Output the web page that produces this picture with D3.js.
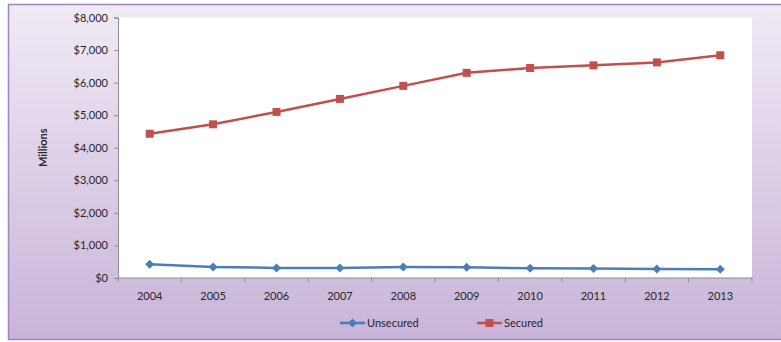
<!DOCTYPE html>
<html>
<head>
<meta charset="utf-8">
<script src="https://cdn.jsdelivr.net/npm/d3@7"></script>
<style>
  html, body { margin: 0; padding: 0; background: #ffffff; }
  svg { display: block; }
  text { font-family: Lato, "Open Sans", sans-serif; fill: #262626; }
</style>
</head>
<body>
<svg id="chart" width="781" height="342"></svg>
<script>
// Loan balances by year, in millions of dollars
const years = ["2004", "2005", "2006", "2007", "2008", "2009", "2010", "2011", "2012", "2013"];
const unsecured = [420, 340, 310, 310, 340, 330, 300, 290, 280, 265];
const secured = [4430, 4720, 5100, 5500, 5900, 6300, 6450, 6530, 6620, 6840];
const yTicks = [0, 1000, 2000, 3000, 4000, 5000, 6000, 7000, 8000];
const seriesNames = ["Unsecured", "Secured"];
const seriesColors = ["#4a7ebb", "#c0504d"];

const svg = d3.select("#chart");
const W = 781, H = 342;

// Panel background with vertical lavender gradient
const defs = svg.append("defs");
const grad = defs.append("linearGradient").attr("id", "panelGrad")
  .attr("x1", 0).attr("y1", 0).attr("x2", 0).attr("y2", 1);
grad.append("stop").attr("offset", "0%").attr("stop-color", "#f0eaf5");
grad.append("stop").attr("offset", "100%").attr("stop-color", "#c8b4d8");

svg.append("rect")
  .attr("x", 8.5).attr("y", 4.5)
  .attr("width", 780).attr("height", 335)
  .attr("fill", "url(#panelGrad)")
  .attr("stroke", "#9d86c2").attr("stroke-width", 1.5);

const plot = { left: 118, right: 752, top: 17.5, bottom: 278 };

svg.append("rect")
  .attr("x", plot.left).attr("y", plot.top)
  .attr("width", plot.right - plot.left).attr("height", plot.bottom - plot.top)
  .attr("fill", "#ffffff");

const x = d3.scaleBand().domain(years).range([plot.left, plot.right]);
const y = d3.scaleLinear().domain([0, 8000]).range([plot.bottom, plot.top]);

// Y axis
const fmt = v => "$" + d3.format(",")(v);
const yAxis = svg.append("g")
  .attr("transform", `translate(${plot.left},0)`)
  .call(d3.axisLeft(y).tickValues(yTicks).tickFormat(fmt).tickSize(4).tickPadding(6));
yAxis.select(".domain").attr("stroke", "#8c8c8c");
yAxis.selectAll(".tick line").attr("stroke", "#8c8c8c");
yAxis.selectAll(".tick text").attr("font-size", 11).attr("fill", "#262626")
  .attr("font-family", "Lato, 'Open Sans', sans-serif");

// X axis: ticks at category boundaries
const xAxisG = svg.append("g").attr("transform", `translate(0,${plot.bottom})`);
xAxisG.append("line")
  .attr("x1", plot.left).attr("x2", plot.right)
  .attr("stroke", "#8c8c8c");
const boundaries = years.map(d => x(d)).concat([plot.right]);
xAxisG.selectAll("line.tk").data(boundaries).enter().append("line")
  .attr("class", "tk")
  .attr("x1", d => d).attr("x2", d => d)
  .attr("y1", 0).attr("y2", 4)
  .attr("stroke", "#8c8c8c");
xAxisG.selectAll("text").data(years).enter().append("text")
  .attr("x", d => x(d) + x.bandwidth() / 2)
  .attr("y", 22)
  .attr("text-anchor", "middle")
  .attr("font-size", 11)
  .text(d => d);

// Y axis title
svg.append("text")
  .attr("transform", `translate(47,${(plot.top + plot.bottom) / 2}) rotate(-90)`)
  .attr("text-anchor", "middle")
  .attr("font-size", 11)
  .attr("font-weight", "bold")
  .text("Millions");

const cx = d => x(d) + x.bandwidth() / 2;
const line = d3.line().x((d, i) => cx(years[i])).y(d => y(d));

function diamond(g, px, py, color, r) {
  g.append("path")
    .attr("d", `M${px},${py - r}L${px + r},${py}L${px},${py + r}L${px - r},${py}Z`)
    .attr("fill", color);
}
function square(g, px, py, color, s) {
  g.append("rect")
    .attr("x", px - s / 2).attr("y", py - s / 2)
    .attr("width", s).attr("height", s)
    .attr("fill", color);
}

// Unsecured series
const gU = svg.append("g");
gU.append("path").datum(unsecured)
  .attr("d", line).attr("fill", "none")
  .attr("stroke", seriesColors[0]).attr("stroke-width", 2.5);
unsecured.forEach((v, i) => diamond(gU, cx(years[i]), y(v), seriesColors[0], 4.5));

// Secured series
const gS = svg.append("g");
gS.append("path").datum(secured)
  .attr("d", line).attr("fill", "none")
  .attr("stroke", seriesColors[1]).attr("stroke-width", 2.5);
secured.forEach((v, i) => square(gS, cx(years[i]), y(v), seriesColors[1], 8));

// Legend
const legendY = 323;
const legendX = [340, 477];
seriesNames.forEach((name, i) => {
  const g = svg.append("g");
  g.append("line")
    .attr("x1", legendX[i]).attr("x2", legendX[i] + 25)
    .attr("y1", legendY).attr("y2", legendY)
    .attr("stroke", seriesColors[i]).attr("stroke-width", 2.5);
  if (i === 0) diamond(g, legendX[i] + 12.5, legendY, seriesColors[i], 4.5);
  else square(g, legendX[i] + 12.5, legendY, seriesColors[i], 8);
  g.append("text")
    .attr("x", legendX[i] + 27).attr("y", legendY + 4)
    .attr("font-size", 11)
    .text(name);
});
</script>
</body>
</html>
